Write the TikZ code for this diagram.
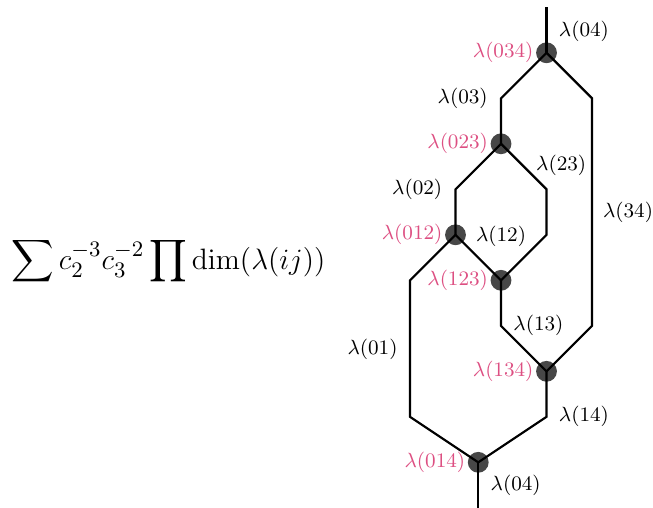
\documentclass[tikz,border=0pt]{standalone}
\usepackage{amsmath}
\usepackage{tikz}
\usetikzlibrary{positioning, calc}

\definecolor{vpink}{RGB}{221,79,130}

\begin{document}
\begin{tikzpicture}[
    x=0.7cm, y=0.7cm, line width=0.95pt,
    vdot/.style ={circle, fill=black!72, inner sep=0pt, minimum size=0.32cm},
    vlab/.style ={text=vpink, font=\small, inner sep=1pt},
    elab/.style ={text=black, font=\small, inner sep=1pt},
]
\useasboundingbox (-9.01,0) rectangle (5.34,11.16);

% formula
\node[scale=1.076, transform shape] (formula) at (-5.31,5.41) {\fontsize{13}{16}\selectfont $\displaystyle\sum c_2^{-3}c_3^{-2}\prod \dim(\lambda(ij))$};

% vertices
\coordinate (v034) at (3,10);
\coordinate (v023) at (2,8);
\coordinate (v012) at (1,6);
\coordinate (v123) at (2,5);
\coordinate (v134) at (3,3);
\coordinate (v014) at (1.5,1);
% bends and ends
\coordinate (top) at (3,11);
\coordinate (bot) at (1.5,0);
\coordinate (b03) at (2,9);
\coordinate (b34a) at (4,9);
\coordinate (b34b) at (4,4);
\coordinate (b02) at (1,7);
\coordinate (b23a) at (3,7);
\coordinate (b23b) at (3,6);
\coordinate (b01a) at (0,5);
\coordinate (b01b) at (0,2);
\coordinate (b13) at (2,4);
\coordinate (b14) at (3,2);

\foreach \v in {v034,v023,v012,v123,v134,v014}
  \node[vdot] at (\v) {};

% edges
\draw (top) -- (v034);
\draw (v034) -- (b03) -- (v023);
\draw (v034) -- (b34a) -- (b34b) -- (v134);
\draw (v023) -- (b02) -- (v012);
\draw (v023) -- (b23a) -- (b23b) -- (v123);
\draw (v012) -- (v123);
\draw (v012) -- (b01a) -- (b01b) -- (v014);
\draw (v123) -- (b13) -- (v134);
\draw (v134) -- (b14) -- (v014);
\draw (v014) -- (bot);

% vertex labels
\node[vlab, left=0.15cm of v034] (l034) {$\lambda(034)$};
\node[vlab, left=0.15cm of v023] (l023) {$\lambda(023)$};
\node[vlab, left=0.15cm of v012] (l012) {$\lambda(012)$};
\node[vlab, left=0.15cm of v123] (l123) {$\lambda(123)$};
\node[vlab, left=0.15cm of v134] (l134) {$\lambda(134)$};
\node[vlab, left=0.15cm of v014] (l014) {$\lambda(014)$};

% edge labels
\node[elab, anchor=west] (l04t) at (3.2,10.48) {$\lambda(04)$};
\node[elab, anchor=east] (l03) at (1.78,9) {$\lambda(03)$};
\node[elab, anchor=west] (l23) at (2.7,7.52) {$\lambda(23)$};
\node[elab, anchor=east] (l02) at (0.78,7) {$\lambda(02)$};
\node[elab, anchor=west] (l34) at (4.17,6.5) {$\lambda(34)$};
\node[elab, anchor=west] (l12) at (1.38,5.96) {$\lambda(12)$};
\node[elab, anchor=west] (l13) at (2.2,4) {$\lambda(13)$};
\node[elab, anchor=east] (l01) at (-0.2,3.49) {$\lambda(01)$};
\node[elab, anchor=west] (l14) at (3.2,2.02) {$\lambda(14)$};
\node[elab, anchor=west] (l04b) at (1.7,0.5) {$\lambda(04)$};
\end{tikzpicture}
\end{document}
